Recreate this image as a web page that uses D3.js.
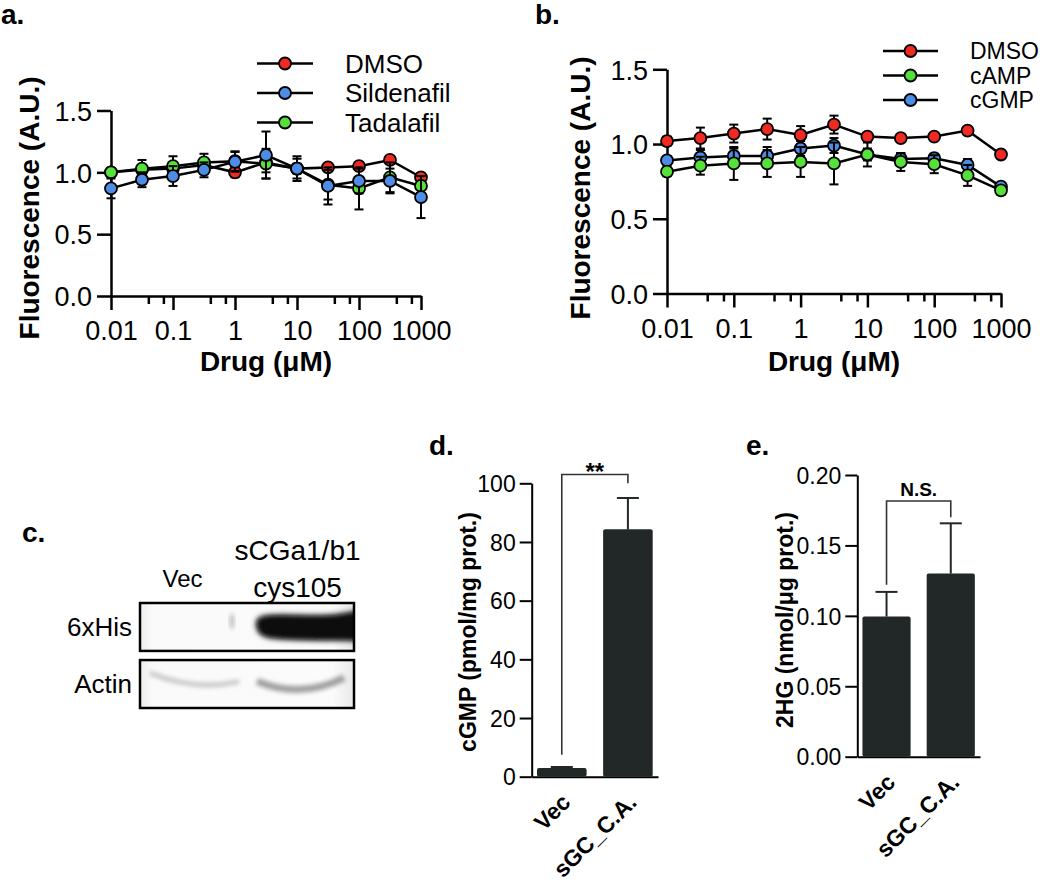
<!DOCTYPE html>
<html><head><meta charset="utf-8">
<script src="https://cdn.jsdelivr.net/npm/d3@7"></script>
<style>
body{margin:0;background:#fff}
svg{display:block;background:#fff}
text{font-family:"Liberation Sans",Arial,sans-serif;fill:#000}
</style>
</head><body>
<svg id="fig" width="1050" height="886"></svg>
<script>
// ---------------- DATA ----------------
const conc = [0.01, 0.0316, 0.1, 0.316, 1, 3.16, 10, 31.6, 100, 316, 1000];
const xTickValues = [0.01, 0.1, 1, 10, 100, 1000];
const xTickLabels = ["0.01", "0.1", "1", "10", "100", "1000"];
const xMinorTicks = [0.04, 0.07, 0.4, 0.7, 4, 7, 40, 70, 400, 700];
const yTickValuesAB = [0, 0.5, 1.0, 1.5];

// panel a
const seriesNamesA = ["DMSO", "Sildenafil", "Tadalafil"];
const dmsoA       = [1.00, 1.02, 1.03, 1.06, 1.00, 1.08, 1.03, 1.04, 1.05, 1.10, 0.96];
const dmsoErrA    = [0.02, 0.04, 0.05, 0.05, 0.04, 0.08, 0.04, 0.02, 0.03, 0.03, 0.03];
const sildenafil  = [0.87, 0.94, 0.97, 1.02, 1.085, 1.14, 1.03, 0.89, 0.93, 0.93, 0.80];
const sildErr     = [0.08, 0.06, 0.08, 0.06, 0.08, 0.19, 0.08, 0.15, 0.10, 0.10, 0.17];
const tadalafil   = [1.00, 1.03, 1.05, 1.08, 1.09, 1.07, 1.03, 0.90, 0.87, 0.96, 0.89];
const tadErr      = [0.03, 0.07, 0.08, 0.07, 0.08, 0.12, 0.10, 0.12, 0.17, 0.12, 0.08];

// panel b
const seriesNamesB = ["DMSO", "cAMP", "cGMP"];
const dmsoB    = [1.02, 1.04, 1.07, 1.10, 1.06, 1.13, 1.05, 1.04, 1.05, 1.09, 0.93];
const dmsoErrB = [0.03, 0.07, 0.06, 0.07, 0.06, 0.06, 0.02, 0.02, 0.02, 0.02, 0.02];
const cAMP     = [0.815, 0.855, 0.87, 0.87, 0.88, 0.87, 0.93, 0.88, 0.865, 0.79, 0.69];
const cAMPErr  = [0.03, 0.06, 0.11, 0.09, 0.10, 0.14, 0.08, 0.06, 0.06, 0.07, 0.03];
const cGMP     = [0.89, 0.91, 0.92, 0.92, 0.97, 0.99, 0.93, 0.90, 0.905, 0.86, 0.715];
const cGMPErr  = [0.03, 0.05, 0.05, 0.06, 0.05, 0.05, 0.04, 0.04, 0.03, 0.04, 0.02];

// panel c (western blot)
const blotLanes = ["Vec", "sCGa1/b1|cys105"];
const blotRows = ["6xHis", "Actin"];
const hisIntensity = [0.0, 1.0];
const actinIntensity = [0.30, 0.55];

// panel d
const barCategories = ["Vec", "sGC_C.A."];
const cgmpValues = [3.0, 84.3];
const cgmpErr = [0.3, 10.7];
const cgmpTicks = [0, 20, 40, 60, 80, 100];
const cgmpSig = {label: "**", top: 103, leftBase: 7.5, rightBase: 100};

// panel e
const hgValues = [0.0995, 0.130];
const hgErr = [0.0175, 0.0357];
const hgTicks = [0, 0.05, 0.10, 0.15, 0.20];
const hgSig = {label: "N.S.", top: 0.1815, leftBase: 0.122, rightBase: 0.170};

// ---------------- COLOURS ----------------
const RED = "#f02a22", BLUE = "#4d8de6", GREEN = "#56e03a";
const BAR = "#222828";

const svg = d3.select("#fig");
const FONT = '"Liberation Sans", Arial, sans-serif';

function styleAxis(g, fs, sw) {
  g.attr("font-family", FONT).attr("font-size", fs);
  g.selectAll("path.domain").attr("stroke", "#000").attr("stroke-width", sw);
  g.selectAll(".tick line").attr("stroke", "#000").attr("stroke-width", sw);
  g.selectAll(".tick text").attr("fill", "#000");
}

function panelLabel(txt, x, y) {
  svg.append("text").attr("x", x).attr("y", y).attr("font-size", 28)
    .attr("font-weight", "bold").text(txt);
}

// ---------------- LINE PANELS ----------------
function linePanel(cfg) {
  const x = d3.scaleLog().domain([0.01, 1000]).range(cfg.xRange);
  const y = d3.scaleLinear().domain([0, 1.5]).range(cfg.yRange);
  const g = svg.append("g");

  const ax = g.append("g").attr("transform", `translate(0,${cfg.yRange[0]})`)
    .call(d3.axisBottom(x).tickValues(xTickValues).tickFormat((d, i) => xTickLabels[i])
      .tickSize(14).tickSizeOuter(0).tickPadding(cfg.xPad));
  styleAxis(ax, 27, 2.5);
  const axm = g.append("g").attr("transform", `translate(0,${cfg.yRange[0]})`)
    .call(d3.axisBottom(x).tickValues(xMinorTicks).tickFormat("").tickSize(8).tickSizeOuter(0));
  styleAxis(axm, 27, 2.5);
  axm.select("path.domain").remove();
  const ay = g.append("g").attr("transform", `translate(${cfg.xRange[0]},0)`)
    .call(d3.axisLeft(y).tickValues(yTickValuesAB).tickFormat(d3.format(".1f"))
      .tickSize(14).tickSizeOuter(0).tickPadding(5));
  styleAxis(ay, 27, 2.5);
  ay.selectAll(".tick text").attr("dy", "0.36em");

  g.append("text").attr("transform", `translate(${cfg.yTitleX},${cfg.yTitleY}) rotate(-90)`)
    .attr("text-anchor", "middle").attr("font-size", 28).attr("font-weight", "bold")
    .text("Fluorescence (A.U.)");
  g.append("text").attr("x", (cfg.xRange[0] + cfg.xRange[1]) / 2).attr("y", cfg.xTitleY)
    .attr("text-anchor", "middle").attr("font-size", 28).attr("font-weight", "bold")
    .text("Drug (μM)");

  const line = d3.line().x((d, i) => x(conc[i])).y(d => y(d));
  cfg.drawOrder.forEach(k => {
    const s = cfg.series[k];
    const sg = g.append("g");
    const pts = s.values.map((v, i) => ({x: x(conc[i]), v, e: s.errors[i]}));
    const eb = sg.selectAll("g.eb").data(pts).join("g");
    eb.append("line").attr("x1", d => d.x).attr("x2", d => d.x)
      .attr("y1", d => y(d.v - d.e)).attr("y2", d => y(d.v + d.e))
      .attr("stroke", "#000").attr("stroke-width", 2);
    [-1, 1].forEach(sn => {
      eb.append("line").attr("x1", d => d.x - 4.5).attr("x2", d => d.x + 4.5)
        .attr("y1", d => y(d.v + sn * d.e)).attr("y2", d => y(d.v + sn * d.e))
        .attr("stroke", "#000").attr("stroke-width", 2);
    });
    sg.append("path").datum(s.values).attr("d", line).attr("fill", "none")
      .attr("stroke", "#000").attr("stroke-width", 2.5);
    sg.selectAll("circle").data(pts).join("circle")
      .attr("cx", d => d.x).attr("cy", d => y(d.v)).attr("r", 6)
      .attr("fill", s.color).attr("stroke", "#000").attr("stroke-width", 1.8);
  });

  cfg.legendOrder.forEach((k, i) => {
    const s = cfg.series[k];
    const ly = cfg.legend.y0 + i * cfg.legend.dy;
    g.append("line").attr("x1", cfg.legend.x1).attr("x2", cfg.legend.x2)
      .attr("y1", ly).attr("y2", ly).attr("stroke", "#000").attr("stroke-width", 2.5);
    g.append("circle").attr("cx", (cfg.legend.x1 + cfg.legend.x2) / 2).attr("cy", ly).attr("r", 6)
      .attr("fill", s.color).attr("stroke", "#000").attr("stroke-width", 1.8);
    g.append("text").attr("x", cfg.legend.tx).attr("y", ly).attr("dy", "0.36em")
      .attr("font-size", cfg.legend.fs).text(s.name);
  });
}

linePanel({
  xRange: [111, 421], yRange: [296, 110.5], xPad: 11,
  yTitleX: 39, yTitleY: 208, xTitleY: 371,
  series: {
    DMSO: {name: seriesNamesA[0], values: dmsoA, errors: dmsoErrA, color: RED},
    Sildenafil: {name: seriesNamesA[1], values: sildenafil, errors: sildErr, color: BLUE},
    Tadalafil: {name: seriesNamesA[2], values: tadalafil, errors: tadErr, color: GREEN}
  },
  drawOrder: ["DMSO", "Tadalafil", "Sildenafil"],
  legendOrder: ["DMSO", "Sildenafil", "Tadalafil"],
  legend: {x1: 257, x2: 313, tx: 345, y0: 63.5, dy: 29.5, fs: 26}
});

linePanel({
  xRange: [667, 1001], yRange: [293.5, 69.3], xPad: 11,
  yTitleX: 590, yTitleY: 188, xTitleY: 371,
  series: {
    DMSO: {name: seriesNamesB[0], values: dmsoB, errors: dmsoErrB, color: RED},
    cAMP: {name: seriesNamesB[1], values: cAMP, errors: cAMPErr, color: GREEN},
    cGMP: {name: seriesNamesB[2], values: cGMP, errors: cGMPErr, color: BLUE}
  },
  drawOrder: ["DMSO", "cGMP", "cAMP"],
  legendOrder: ["DMSO", "cAMP", "cGMP"],
  legend: {x1: 883, x2: 938, tx: 970, y0: 51, dy: 24.5, fs: 23}
});

panelLabel("a.", 1, 24);
panelLabel("b.", 535, 24);

// ---------------- PANEL C: BLOT ----------------
(function blot() {
  const defs = svg.append("defs");
  defs.append("filter").attr("id", "blur3").attr("x", "-20%").attr("y", "-50%")
    .attr("width", "140%").attr("height", "200%")
    .append("feGaussianBlur").attr("stdDeviation", 2.6);
  defs.append("filter").attr("id", "blur2").attr("x", "-20%").attr("y", "-80%")
    .attr("width", "140%").attr("height", "260%")
    .append("feGaussianBlur").attr("stdDeviation", 2.0);
  const edge = defs.append("linearGradient").attr("id", "edgeGrad");
  [[0, "#ececec"], [0.06, "#fafafa"], [0.9, "#fbfbfb"], [1, "#e8e8e8"]].forEach(([o, c]) =>
    edge.append("stop").attr("offset", o).attr("stop-color", c));
  const boxX = [140, 354];
  const lane = d3.scaleBand().domain(blotLanes).range([128, 354]).padding(0);
  const rowY = d3.scaleBand().domain(blotRows).range([603, 708]).paddingInner(0.16);
  const g = svg.append("g");
  const fontC = '"Open Sans", "Noto Sans", sans-serif';

  const l0 = lane(blotLanes[0]) + lane.bandwidth() / 2;
  g.append("text").attr("x", l0 - 2).attr("y", 587).attr("text-anchor", "middle")
    .attr("font-family", fontC).attr("font-size", 24).text(blotLanes[0]);
  const l1 = lane(blotLanes[1]) + lane.bandwidth() / 2;
  blotLanes[1].split("|").forEach((t, i) => {
    g.append("text").attr("x", l1).attr("y", 560 + i * 37).attr("text-anchor", "middle")
      .attr("font-family", fontC).attr("font-size", 28).text(t);
  });

  blotRows.forEach((r, ri) => {
    const y0 = rowY(r), h = rowY.bandwidth();
    const clipId = "clip" + ri;
    defs.append("clipPath").attr("id", clipId).append("rect")
      .attr("x", boxX[0]).attr("y", y0).attr("width", boxX[1] - boxX[0]).attr("height", h);
    const inner = g.append("g").attr("clip-path", `url(#${clipId})`);
    inner.append("rect").attr("x", boxX[0]).attr("y", y0).attr("width", boxX[1] - boxX[0])
      .attr("height", h).attr("fill", "url(#edgeGrad)");
    blotLanes.forEach((ln, li) => {
      const lx = lane(ln), lw = lane.bandwidth();
      if (r === "6xHis") {
        const a = hisIntensity[li];
        if (a > 0) {
          const xa = lx + 16, xb = lx + lw + 4;
          const path = `M${xa},${y0 + h * 0.42}` +
            ` C${xa},${y0 + h * 0.22} ${xa + 20},${y0 + h * 0.26} ${(xa + xb) / 2},${y0 + h * 0.27}` +
            ` S${xb - 14},${y0 + h * 0.22} ${xb},${y0 + h * 0.18}` +
            ` L${xb},${y0 + h * 0.78}` +
            ` C${xb - 20},${y0 + h * 0.74} ${(xa + xb) / 2},${y0 + h * 0.80} ${xa + 14},${y0 + h * 0.72}` +
            ` C${xa + 4},${y0 + h * 0.68} ${xa},${y0 + h * 0.6} ${xa},${y0 + h * 0.42} Z`;
          inner.append("path").attr("d", path).attr("fill", "#000").attr("opacity", a * 0.4)
            .attr("transform", "translate(0,0) scale(1,1)").attr("filter", "url(#blur3)")
            .attr("stroke", "#000").attr("stroke-width", 5);
          inner.append("path").attr("d", path).attr("fill", "#0a0a0a").attr("opacity", a)
            .attr("filter", "url(#blur2)");
        }
      } else {
        const a = actinIntensity[li];
        const xa = lx + (li === 0 ? 22 : 16), xb = lx + lw - (li === 0 ? 2 : 10);
        const yb = y0 + h * (li === 0 ? 0.45 : 0.62);
        inner.append("path")
          .attr("d", `M${xa},${yb - h * 0.18} Q${(xa + xb) / 2},${yb + h * 0.2} ${xb},${yb - (li === 0 ? 0 : h * 0.25)}`)
          .attr("fill", "none").attr("stroke", "#555").attr("stroke-width", li === 0 ? 5 : 7)
          .attr("opacity", a).attr("filter", "url(#blur2)");
      }
    });
    if (r === "6xHis") {
      inner.append("ellipse").attr("cx", lane(blotLanes[1]) - 9).attr("cy", y0 + h * 0.38)
        .attr("rx", 2.5).attr("ry", 8).attr("fill", "#888").attr("opacity", 0.5)
        .attr("filter", "url(#blur2)");
    }
    g.append("rect").attr("x", boxX[0]).attr("y", y0).attr("width", boxX[1] - boxX[0])
      .attr("height", h).attr("fill", "none").attr("stroke", "#000").attr("stroke-width", 2.5);
    g.append("text").attr("x", 132).attr("y", y0 + h / 2).attr("dy", "0.36em")
      .attr("text-anchor", "end").attr("font-family", fontC).attr("font-size", 26).text(r);
  });
})();
panelLabel("c.", 22, 542);

// ---------------- BAR PANELS ----------------
function barPanel(cfg) {
  const x = d3.scaleBand().domain(barCategories).range(cfg.xRange).paddingInner(0.25).paddingOuter(0.08);
  const y = d3.scaleLinear().domain(cfg.domain).range(cfg.yRange);
  const g = svg.append("g");
  const ay = g.append("g").attr("transform", `translate(${cfg.xRange[0]},0)`)
    .call(d3.axisLeft(y).tickValues(cfg.ticks).tickFormat(cfg.fmt).tickSize(12).tickSizeOuter(0).tickPadding(4));
  styleAxis(ay, 23, 2);
  ay.selectAll(".tick text").attr("fill", "#222").attr("dy", "0.36em");
  const ax = g.append("g").attr("transform", `translate(0,${cfg.yRange[0]})`)
    .call(d3.axisBottom(x).tickValues([]).tickSizeOuter(0));
  styleAxis(ax, 22, 2);

  const cx = d => x(d) + x.bandwidth() / 2;
  g.selectAll("rect.bar").data(barCategories).join("rect")
    .attr("x", d => x(d)).attr("width", x.bandwidth())
    .attr("y", (d, i) => y(cfg.values[i])).attr("height", (d, i) => y(0) - y(cfg.values[i]))
    .attr("rx", 2).attr("fill", BAR);
  barCategories.forEach((c, i) => {
    const top = y(cfg.values[i] + cfg.errors[i]);
    g.append("line").attr("x1", cx(c)).attr("x2", cx(c)).attr("y1", y(cfg.values[i])).attr("y2", top)
      .attr("stroke", BAR).attr("stroke-width", 2);
    g.append("line").attr("x1", cx(c) - 11).attr("x2", cx(c) + 11).attr("y1", top).attr("y2", top)
      .attr("stroke", BAR).attr("stroke-width", 2);
  });
  const s = cfg.sig;
  const xa = cx(barCategories[0]), xb = cx(barCategories[1]);
  g.append("path")
    .attr("d", `M${xa},${y(s.leftBase)}V${y(s.top)}H${xb}V${y(s.rightBase)}`)
    .attr("fill", "none").attr("stroke", "#333").attr("stroke-width", 1.6);
  g.append("text").attr("x", (xa + xb) / 2).attr("y", y(s.top) + cfg.sigDy)
    .attr("text-anchor", "middle").attr("font-size", cfg.sigFs).attr("font-weight", "bold")
    .attr("fill", "#222").text(s.label);
  barCategories.forEach(c => {
    g.append("text").attr("transform", `translate(${cx(c) + 10},${cfg.yRange[0] + 27}) rotate(-45)`)
      .attr("text-anchor", "end").attr("font-size", 23).attr("font-weight", "bold")
      .attr("fill", "#111").text(c);
  });
  g.append("text").attr("transform", `translate(${cfg.titleX},${cfg.titleY}) rotate(-90)`)
    .attr("text-anchor", "middle").attr("font-size", 23).attr("font-weight", "bold")
    .attr("fill", "#222").text(cfg.title);
}

barPanel({
  xRange: [531.7, 658], yRange: [776.7, 483.3], domain: [0, 100], ticks: cgmpTicks,
  fmt: d3.format("d"), values: cgmpValues, errors: cgmpErr, sig: cgmpSig,
  sigDy: 6, sigFs: 24, title: "cGMP (pmol/mg prot.)", titleX: 476, titleY: 632
});
barPanel({
  xRange: [857.3, 980], yRange: [756.7, 475], domain: [0, 0.2], ticks: hgTicks,
  fmt: d3.format(".2f"), values: hgValues, errors: hgErr, sig: hgSig,
  sigDy: -5, sigFs: 19, title: "2HG (nmol/μg prot.)", titleX: 793, titleY: 620
});
panelLabel("d.", 429, 455);
panelLabel("e.", 746, 455);
</script>
</body></html>
